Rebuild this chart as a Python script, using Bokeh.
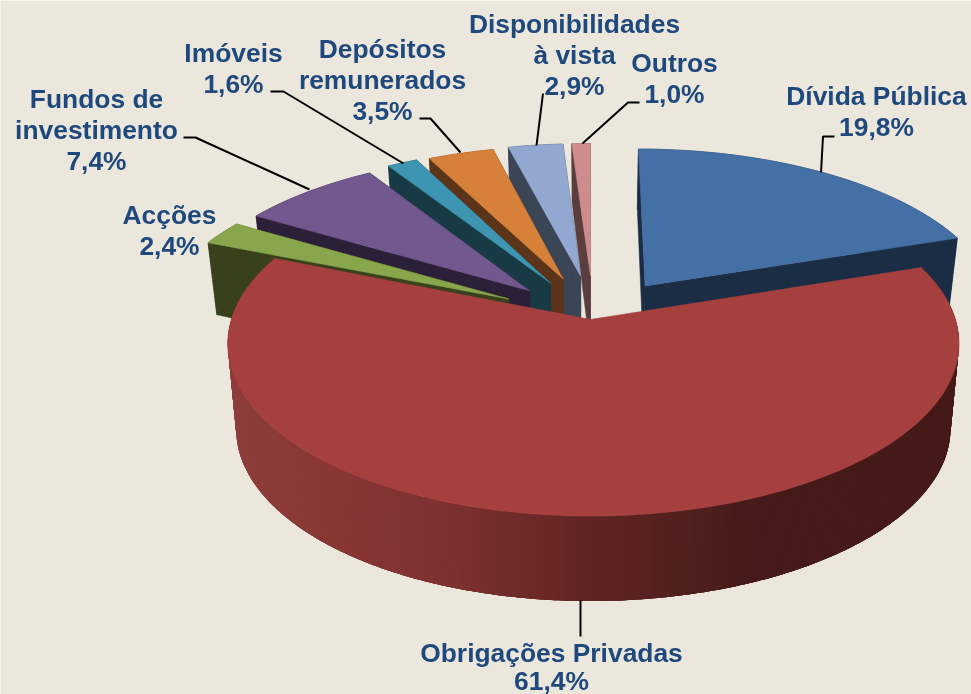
import math
from bokeh.plotting import figure
from bokeh.embed import file_html
from bokeh.resources import INLINE
from bokeh.core.properties import value

# ---- data ----
categories = ["Dívida Pública", "Obrigações Privadas", "Acções", "Fundos de investimento",
              "Imóveis", "Depósitos remunerados", "Disponibilidades à vista", "Outros"]
shares = [19.8, 61.4, 2.4, 7.4, 1.6, 3.5, 2.9, 1.0]
label_lines = [["Dívida Pública"], ["Obrigações Privadas"], ["Acções"], ["Fundos de", "investimento"],
               ["Imóveis"], ["Depósitos", "remunerados"], ["Disponibilidades", "à vista"], ["Outros"]]

# ---- styles ----
top_colors = ["#4470A5", "#A6403F", "#88A64B", "#71588F", "#3E95B1", "#D7803A", "#93A8D0", "#CE8C8C"]
side_colors = ["#1B2D45", "#6A2A28", "#38401C", "#2C2038", "#183A45", "#5C341A", "#3A4555", "#5A3D3D"]
BG = "#EBE7DD"
TXT = "#1F497D"
label_pos = [(876, 95), (551, 652), (169, 214), (96, 98), (233, 52), (382, 48), (574, 23), (674, 62)]
label_step = [31, 28, 31, 31, 31, 31, 31, 31]
leaders = [[(820.5, 172), (822.5, 136), (834, 136)],
           [(580, 600), (580, 636)],
           [],
           [(309, 189), (195, 137), (183, 137)],
           [(403, 163), (283, 91), (270, 91)],
           [(460, 152), (430, 118), (419, 118)],
           [(536, 145), (542.5, 93)],
           [(582, 143), (627.5, 102), (639, 102)]]

# projection parameters per slice
radius_a = [347, 362, 347, 347, 347, 344, 344, 340]
radius_b = [156, 169, 156, 156, 155, 152, 151, 150.5]
apex_dx = [0, 0, -5, 0, 1, 1, 1, 0]
RIM_SKEW = [0, 0.008, 0, 0, 0, 0, 0, 0]

W, H = 971, 694
VPX = 590.0
K = 0.14
CX, EX = 592.8, 89.0
CY, EY, KE = 308.0, 16.5, -0.5


def unit(theta):
    return math.sin(theta), math.cos(theta)


def apex_of(tm):
    sx, cy_ = unit(tm)
    return CX + EX * sx, CY - EY * cy_ / (1 + KE * cy_)


def rim(ax, ay, A, B, th, skew=0.0):
    X, Y = unit(th)
    s = 1 / (1 + K * Y)
    return (ax + (ax - VPX) * (s - 1) + A * (1 + skew * X) * X * s, ay - B * Y * s)


def lower(pt):
    x, y = pt
    d = min(85.0, 72.0 + (y - 242.0) * 13.0 / 103.0)
    return VPX + (x - VPX) * 0.977, y + d


def hex2(c):
    return tuple(int(c[i:i + 2], 16) for i in (1, 3, 5))


wall_stops = [(225, "#8E3E3B"), (340, "#873634"), (450, "#7D3130"), (580, "#622523"),
              (700, "#4E1F1C"), (760, "#451A18"), (975, "#451A18")]


def wall_color(x):
    for (x0, c0), (x1, c1) in zip(wall_stops, wall_stops[1:]):
        if x <= x1:
            t = max(0.0, (x - x0) / (x1 - x0))
            a, b = hex2(c0), hex2(c1)
            return "#%02X%02X%02X" % tuple(round(a[i] + (b[i] - a[i]) * t) for i in range(3))
    return wall_stops[-1][1]


p = figure(width=W, height=H, x_range=(0, W), y_range=(H, 0), output_backend="svg",
           toolbar_location=None, min_border=0, outline_line_color=None,
           background_fill_color=BG, border_fill_color=BG)
p.axis.visible = False
p.grid.visible = False
p.styles = {"position": "fixed", "left": "0", "top": "0"}

# build slices
angles = []
acc = 0.0
for v in shares:
    a0 = acc / 100 * 2 * math.pi
    acc += v
    angles.append((a0, acc / 100 * 2 * math.pi))

order = [7, 6, 5, 4, 3, 2, 0, 1]   # back to front
for i in order:
    a0, a1 = angles[i]
    tm = (a0 + a1) / 2
    ax, ay = apex_of(tm)
    ax += apex_dx[i]
    red = i == 1
    A, B, sk = radius_a[i], radius_b[i], RIM_SKEW[i]
    n = max(4, int((a1 - a0) / 0.01))
    ths = [a0 + (a1 - a0) * j / n for j in range(n + 1)]
    arc = [rim(ax, ay, A, B, t, sk) for t in ths]
    low = [lower(q) for q in arc]
    apex = (ax, ay)
    lapex = lower(apex)
    if not red:
        for a_, l_ in ((arc[0], low[0]), (arc[-1], low[-1])):
            qx = [apex[0], a_[0], l_[0], lapex[0]]
            qy = [apex[1], a_[1], l_[1], lapex[1]]
            p.patch(qx, qy, fill_color=side_colors[i], line_color=side_colors[i], line_width=0.5)
        qx = [q[0] for q in arc] + [q[0] for q in reversed(low)]
        qy = [q[1] for q in arc] + [q[1] for q in reversed(low)]
        p.patch(qx, qy, fill_color=side_colors[i], line_color=side_colors[i], line_width=0.5)
    else:
        # shaded wall: overlapping strips, painted from right to left, no seams
        xs, ys, cs = [], [], []
        last = n - 1
        for j in range(n):
            k = min(j + 4, n)
            xs.append([arc[j][0]] + [q[0] for q in arc[j + 1:k + 1]] + [q[0] for q in reversed(low[j:k + 1])])
            ys.append([arc[j][1]] + [q[1] for q in arc[j + 1:k + 1]] + [q[1] for q in reversed(low[j:k + 1])])
            cs.append(wall_color((arc[j][0] + arc[j + 1][0]) / 2))
        p.patches(xs, ys, fill_color=cs, line_color=None)
    tx = [apex[0]] + [q[0] for q in arc]
    ty = [apex[1]] + [q[1] for q in arc]
    p.patch(tx, ty, fill_color=top_colors[i], line_color=top_colors[i], line_width=0.6)

# leaders
for pts in leaders:
    if pts:
        p.line([q[0] for q in pts], [q[1] for q in pts], line_color="black", line_width=2)

# labels
for i, lines in enumerate(label_lines):
    pct = f"{shares[i]:.1f}".replace(".", ",") + "%"
    x0, y0 = label_pos[i]
    rows = lines + [pct]
    p.text([x0] * len(rows), [y0 + label_step[i] * j for j in range(len(rows))], text=rows,
           text_font=value("Liberation Sans"), text_font_style="bold", text_font_size="26.4px",
           text_color=TXT, text_align="center", text_baseline="middle")

open("out.html", "w").write(file_html(p, INLINE))
